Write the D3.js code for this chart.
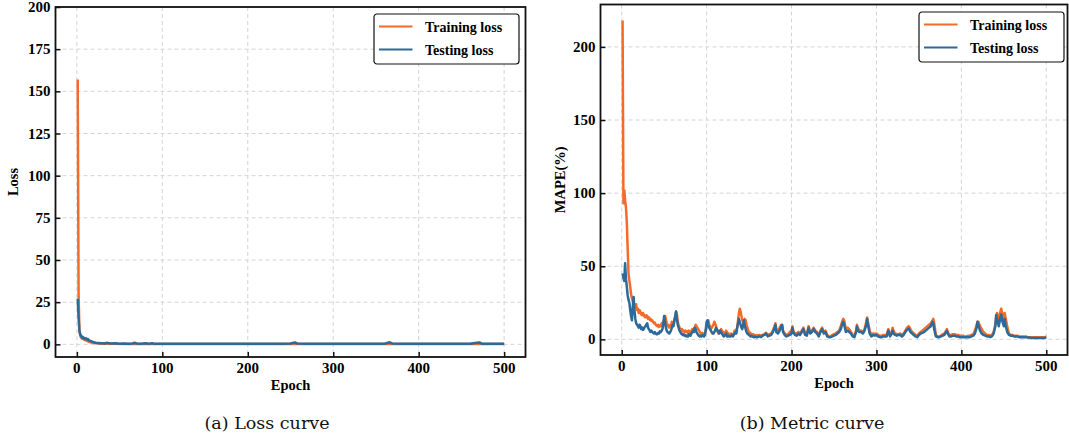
<!DOCTYPE html>
<html>
<head>
<meta charset="utf-8">
<script src="https://cdn.jsdelivr.net/npm/d3@7"></script>
<style>
  body { margin: 0; background: #fff; }
</style>
</head>
<body>
<svg id="fig" width="1069" height="443"></svg>
<script>
// ---- data: [epoch, value] ----
var lossTrain = [[1,157],[2,30],[3,8],[4,5],[5,4],[6,3.5],[8,3],[10,2.5],[12,2],[14,1.5],[16,1.2],[18,1],[20,0.8],[25,0.5],[30,0.4],[40,0.3],[60,0.25],[100,0.2],[200,0.2],[300,0.15],[400,0.15],[500,0.15]];

var lossTest = [[1,27],[2,16],[3,8],[4,6],[5,5],[6,4],[7,4.5],[8,3.5],[9,3.8],[10,3],[11,3.5],[12,2.8],[13,3.2],[14,2.5],[15,2.2],[16,2],[18,1.6],[20,1.2],[22,1],[25,0.8],[28,0.6],[30,0.7],[33,0.5],[35,1],[38,0.6],[40,0.5],[45,0.6],[50,0.4],[55,0.5],[60,0.4],[65,0.5],[68,0.9],[70,0.5],[75,0.4],[80,0.6],[85,0.4],[88,0.7],[90,0.4],[95,0.3],[100,0.3],[110,0.35],[120,0.3],[130,0.4],[140,0.3],[150,0.35],[160,0.3],[170,0.4],[180,0.3],[190,0.35],[200,0.3],[210,0.4],[220,0.3],[230,0.35],[240,0.3],[250,0.5],[255,1.1],[258,0.5],[270,0.3],[280,0.35],[290,0.3],[300,0.3],[310,0.35],[320,0.3],[330,0.3],[340,0.35],[350,0.3],[360,0.4],[366,1.2],[369,0.5],[380,0.3],[390,0.3],[400,0.3],[410,0.35],[420,0.3],[430,0.3],[440,0.3],[450,0.35],[460,0.3],[468,0.9],[471,1.1],[474,0.4],[480,0.3],[490,0.3],[500,0.3]];

var mapeTrain = [[1,218],[2,93],[3,102],[4,95],[5,90],[6,80],[7,62],[8,45],[9,40],[10,36],[11,31],[12,28],[13,26],[14,24],[15,23],[16,22],[17,24],[18,20],[19,21],[20,18],[21,20],[22,19],[23,17],[24,16.5],[25,18],[26,17],[27,15.5],[28,15],[29,16.5],[30,16],[31,14],[32,15],[33,13.5],[34,14],[35,12.5],[36,13],[37,12],[38,11],[39,11.5],[40,10],[41,9.5],[42,9],[43,10],[44,8.5],[45,9.5],[46,9],[47,11],[48,10],[49,12],[50,13],[51,16],[52,14],[53,11],[54,9],[55,10],[56,8],[57,9.5],[58,9],[59,12],[60,11],[61,10],[62,13],[63,15],[64,19],[65,17],[66,12],[67,10],[68,8],[69,7],[70,6],[71,7],[72,5.5],[73,6],[74,5],[75,6],[76,5],[77,5.5],[78,4.5],[79,6],[80,5],[81,4.5],[82,5.5],[83,7],[84,6],[85,7.5],[86,8],[87,10],[88,9],[89,8],[90,7],[91,6],[92,5],[93,4],[94,3.5],[95,4.5],[96,3],[97,3.5],[98,4],[99,6],[100,8],[101,11],[102,13],[103,10],[104,9],[105,7],[106,8],[107,9],[108,10],[109,12],[110,11],[111,9],[112,7],[113,5],[114,4],[115,5.5],[116,5],[117,7],[118,6],[119,4.5],[120,5],[121,3.5],[122,4],[123,6],[124,5],[125,3.5],[126,4],[127,3],[128,3.5],[129,4],[130,3],[131,3.5],[132,4],[133,6],[134,5],[135,6.5],[136,8],[137,13],[138,18],[139,21],[140,19],[141,16],[142,13],[143,12],[144,11],[145,14],[146,13],[147,10],[148,8],[149,6],[150,5],[151,4.5],[152,4],[153,3.5],[154,3],[155,3.5],[156,3],[157,2.5],[158,2.5],[159,3],[160,2.5],
  [162,3],[164,2.5],[166,3],[168,3.5],[170,4.5],[172,3],[174,3.5],[176,4],[178,6],[180,9],[181,11],[182,7],[184,6],[186,8],[188,10],[189,9],[190,6],[192,4],[194,3],[196,3.5],[198,5],[200,6],[201,9],[202,6],[204,4],[206,4],[208,5],[210,4],[212,6],[214,8],[216,4],[218,3.5],[220,9],[222,5],[224,6],[226,8],[228,6],[230,5],[232,3],[234,6],[236,8],[238,5],[240,6],[242,3],[244,2],[246,2],[248,3],[250,3.5],[252,4],[254,5],[256,6],[258,9],[260,13],[261,14],[262,13],[264,7],[266,8],[268,7],[270,5],[272,3],[274,2.5],[276,6],[277,10],[278,8],[280,6],[282,6],[284,5],[286,7],[288,12],[289,15],[290,12],[292,6],[294,3],[296,4],[298,3.5],[300,4],[302,3],[304,2.5],[306,2.5],[308,3],[310,3],[312,3],[314,7],[316,3],[318,5],[319,8],[320,6],[322,4],[324,3.5],[326,3.5],[328,4],[330,3],[332,4],[334,6],[336,8],[338,9],[340,7],[342,5],[344,4],[346,3],[348,2.5],[350,4],[352,5],[354,6],[356,7],[358,8],[360,9],[362,10],[364,11],[366,13],[367,14],[368,11],[370,3],[372,2],[374,2],[376,2.5],[378,3.5],[380,4],[382,6],[383,7],[384,5],[386,3],[388,3],[390,3.5],[392,3.5],[394,3],[396,3],[398,2.5],[400,2.5],[402,2.5],[404,2],[406,2],[408,2.5],[410,2.5],[412,3],[414,3.5],[416,6],[418,10],[419,12],[420,12],[422,9],[424,7],[426,5],[428,4],[430,3],[432,3],[434,2.5],[436,3],[438,5],[440,10],[441,15],[442,18],[444,14],[446,19],[447,21],[448,18],[450,12],[451,18],[452,15],[454,9],[456,4],[458,3],[460,3],[462,2.5],[464,2.5],[466,2.5],[468,2],[470,2],[472,2],[474,2],[476,2],[478,1.5],[480,1.5],[482,1.5],[484,1.5],[486,1.5],[488,1.5],[490,1.5],[492,1.5],[494,1.5],[496,1.5],[498,1.5],[500,1.8]];

var mapeTest = [[1,45],[2,42],[3,40],[4,52],[5,41],[6,36],[7,30],[8,27],[9,25],[10,20],[11,16],[12,13],[13,22],[14,29],[15,20],[16,14],[17,11],[18,10],[19,9],[20,8],[21,10],[22,9],[23,7],[24,8],[25,6.5],[26,7],[27,8.5],[28,9],[29,10],[30,11],[31,8],[32,7],[33,6],[34,5],[35,6],[36,5],[37,4.5],[38,4],[39,5],[40,4],[41,3.5],[42,3.5],[43,4.5],[44,4],[45,5.5],[46,5],[47,6],[48,7],[49,11],[50,16],[51,12],[52,8],[53,6],[54,5],[55,4.5],[56,4],[57,5],[58,6],[59,8],[60,10],[61,9],[62,13],[63,16],[64,19],[65,14],[66,10],[67,8],[68,6],[69,5],[70,4],[71,3.5],[72,3],[73,3.5],[74,2.5],[75,3],[76,2],[77,2.5],[78,2],[79,3.5],[80,3],[81,2.5],[82,4],[83,5],[84,6],[85,5],[86,8],[87,7],[88,5],[89,4],[90,3],[91,2.5],[92,2],[93,2.5],[94,2],[95,3],[96,2.5],[97,2],[98,3],[99,7],[100,12],[101,13],[102,10],[103,8],[104,7],[105,6],[106,5],[107,4],[108,4],[109,5],[110,6],[111,8],[112,7],[113,6],[114,5],[115,4],[116,6],[117,5],[118,4],[119,3],[120,2],[121,2.5],[122,3],[123,4],[124,2],[125,2],[126,2.5],[127,2],[128,2],[129,2.5],[130,3],[131,2],[132,3],[133,4],[134,5],[135,4],[136,8],[137,11],[138,14],[139,12],[140,10],[141,8],[142,7],[143,10],[144,13],[145,9],[146,7],[147,5],[148,4],[149,3.5],[150,3],[151,2.5],[152,2],[153,2.5],[154,2],[155,1.5],[156,1.5],[157,2],[158,1.5],[159,1.5],[160,1.5],
  [162,2],[164,1.5],[166,2.5],[168,3],[170,4],[172,2],[174,2.5],[176,3],[178,5],[180,8],[181,10],[182,5],[184,4],[186,6],[188,9],[189,10],[190,5],[192,3],[194,2],[196,2.5],[198,3],[200,4],[201,8],[202,5],[204,3],[206,2.5],[208,4],[210,3],[212,5],[214,7],[216,3],[218,2.5],[220,8],[222,4],[224,5],[226,7],[228,5],[230,4],[232,2],[234,5],[236,7],[238,4],[240,5],[242,2],[244,1.5],[246,1.5],[248,2],[250,2.5],[252,3],[254,4],[256,5],[258,7],[260,11],[261,12],[262,10],[264,5],[266,6],[268,5],[270,4],[272,2],[274,1.5],[276,5],[277,8.7],[278,6],[280,5],[282,5],[284,4],[286,6],[288,10],[289,14],[290,10],[292,4],[294,2],[296,3],[298,2.5],[300,3],[302,2],[304,1.5],[306,1.5],[308,2],[310,2],[312,2],[314,6],[316,2],[318,4],[319,6],[320,4],[322,3],[324,2.5],[326,3],[328,3],[330,2],[332,3],[334,5],[336,6.5],[338,7.5],[340,5],[342,4],[344,3],[346,2],[348,1.5],[350,3],[352,4],[354,4.5],[356,5],[358,6],[360,7],[362,8],[364,9],[366,12],[367,11],[368,7],[370,2],[372,1.5],[374,1.5],[376,2],[378,2.5],[380,3],[382,5],[383,5.7],[384,4],[386,2],[388,2],[390,2.5],[392,2.5],[394,2],[396,2],[398,1.5],[400,1.5],[402,1.5],[404,1.5],[406,1.5],[408,1.5],[410,1.5],[412,2],[414,2.5],[416,4],[418,8],[419,12],[420,10],[422,6],[424,4],[426,3],[428,2.5],[430,2],[432,2],[434,1.5],[436,2],[438,4],[440,9],[441,16.6],[442,14],[444,9],[446,15],[447,17],[448,13],[450,9],[451,14],[452,10],[454,5],[456,3],[458,2.5],[460,2.5],[462,2],[464,2],[466,2],[468,1.5],[470,1.5],[472,1.5],[474,1.5],[476,1.5],[478,1.2],[480,1.2],[482,1],[484,1],[486,1],[488,1],[490,1],[492,1],[494,1],[496,1],[498,1],[500,1.2]];

var epochTicks = [0, 100, 200, 300, 400, 500];
var lossTicks = [0, 25, 50, 75, 100, 125, 150, 175, 200];
var mapeTicks = [0, 50, 100, 150, 200];
var seriesNames = ["Training loss", "Testing loss"];
var colors = ["#f26b2a", "#2c6a9a"];

var serif = "'Liberation Serif', 'Times New Roman', Times, serif";
var svg = d3.select("#fig");

function boldText(sel, size) {
  return sel.attr("font-family", serif).attr("font-weight", "bold")
    .attr("font-size", size).attr("fill", "#000");
}

function drawPanel(opt) {
  var x = d3.scaleLinear().domain([-25, 525]).range([opt.left, opt.right]);
  var y = d3.scaleLinear().domain(opt.ydom).range([opt.bottom, opt.top]);
  var g = svg.append("g");
  var clipId = "clip" + opt.id;
  g.append("clipPath").attr("id", clipId).append("rect")
    .attr("x", opt.left).attr("y", opt.top)
    .attr("width", opt.right - opt.left).attr("height", opt.bottom - opt.top);

  // grid
  g.selectAll(".gx").data(epochTicks).enter().append("line")
    .attr("x1", function(d){ return x(d); }).attr("x2", function(d){ return x(d); })
    .attr("y1", opt.top).attr("y2", opt.bottom)
    .attr("stroke", "#d4d4d4").attr("stroke-width", 1).attr("stroke-dasharray", "4,3");
  g.selectAll(".gy").data(opt.yticks).enter().append("line")
    .attr("x1", opt.left).attr("x2", opt.right)
    .attr("y1", function(d){ return y(d); }).attr("y2", function(d){ return y(d); })
    .attr("stroke", "#d4d4d4").attr("stroke-width", 1).attr("stroke-dasharray", "4,3");

  // lines
  var line = d3.line().x(function(d){ return x(d[0]); }).y(function(d){ return y(d[1]); });
  var lg = g.append("g").attr("clip-path", "url(#" + clipId + ")");
  [opt.train, opt.test].forEach(function(s, i) {
    lg.append("path").datum(s).attr("d", line)
      .attr("fill", "none").attr("stroke", colors[i]).attr("stroke-width", 2.5)
      .attr("stroke-linejoin", "round");
  });

  // axes: inward tick marks from d3, labels drawn by hand from the scales
  var xAxis = d3.axisBottom(x).tickValues(epochTicks).tickSize(-5).tickFormat("");
  var yAxis = d3.axisLeft(y).tickValues(opt.yticks).tickSize(-5).tickFormat("");
  var ga = g.append("g").attr("transform", "translate(0," + opt.bottom + ")").call(xAxis);
  var gb = g.append("g").attr("transform", "translate(" + opt.left + ",0)").call(yAxis);
  [ga, gb].forEach(function(a) {
    a.select(".domain").remove();
    a.selectAll(".tick line").attr("stroke", "#111").attr("stroke-width", 1.5);
  });
  boldText(g.selectAll(".xl").data(epochTicks).enter().append("text"), 15)
    .attr("x", function(d){ return x(d); }).attr("y", opt.bottom + 16)
    .attr("text-anchor", "middle").text(function(d){ return d; });
  boldText(g.selectAll(".yl").data(opt.yticks).enter().append("text"), 15)
    .attr("x", opt.left - 5).attr("y", function(d){ return y(d) + 5; })
    .attr("text-anchor", "end").text(function(d){ return d; });

  // frame
  g.append("rect").attr("x", opt.left).attr("y", opt.top)
    .attr("width", opt.right - opt.left).attr("height", opt.bottom - opt.top)
    .attr("fill", "none").attr("stroke", "#111").attr("stroke-width", 1.8);

  // axis labels
  boldText(g.append("text"), 14.5)
    .attr("x", (opt.left + opt.right) / 2).attr("y", opt.bottom + 33)
    .attr("text-anchor", "middle").text("Epoch");
  boldText(g.append("text"), 14.5)
    .attr("transform", "translate(" + opt.ylabX + "," + (opt.top + opt.bottom) / 2 + ") rotate(-90)")
    .attr("text-anchor", "middle").text(opt.ylabel);

  // legend
  var leg = g.append("g").attr("transform", "translate(" + opt.legX + "," + opt.legY + ")");
  leg.append("rect").attr("width", 145).attr("height", 50).attr("rx", 3)
    .attr("fill", "#fff").attr("stroke", "#111").attr("stroke-width", 1.2);
  seriesNames.forEach(function(n, i) {
    var yy = 12.5 + i * 23;
    leg.append("line").attr("x1", 5).attr("x2", 38.5).attr("y1", yy).attr("y2", yy)
      .attr("stroke", colors[i]).attr("stroke-width", 2);
    boldText(leg.append("text"), 14).attr("x", 51).attr("y", yy + 5).text(n);
  });

  // caption
  svg.append("text")
    .attr("font-family", "'DejaVu Serif', serif").attr("font-size", 17.5).attr("fill", "#111")
    .attr("x", opt.capX).attr("y", 429).attr("text-anchor", "middle").text(opt.caption);
}

drawPanel({
  id: "a", left: 55.5, right: 525.5, top: 7, bottom: 357,
  ydom: [-7.5, 200], yticks: lossTicks,
  train: lossTrain, test: lossTest,
  ylabel: "Loss", ylabX: 18, legX: 374, legY: 14,
  caption: "(a) Loss curve", capX: 267
});

drawPanel({
  id: "b", left: 600.5, right: 1067.5, top: 4.5, bottom: 355,
  ydom: [-10.7, 229], yticks: mapeTicks,
  train: mapeTrain, test: mapeTest,
  ylabel: "MAPE(%)", ylabX: 565, legX: 919, legY: 12,
  caption: "(b) Metric curve", capX: 812
});
</script>
</body>
</html>
